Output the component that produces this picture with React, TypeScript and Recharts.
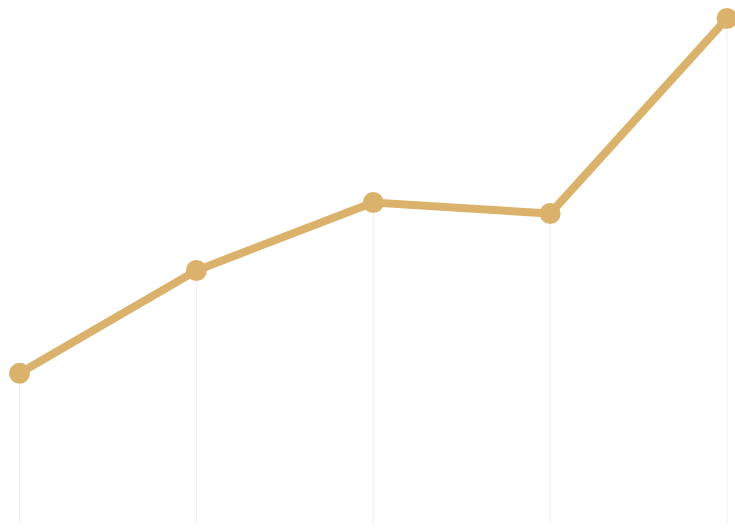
import { LineChart, Line, XAxis, YAxis, ReferenceLine } from "recharts";

const years = ["2019", "2020", "2021", "2022", "2023"];
const values = [29.6, 50, 63.5, 61.3, 100];

const data = years.map((year, i) => ({ year, value: values[i] }));

const GOLD = "#dbb26b";
const DROP = "#faeaee";

export default function App() {
  return (
    <div style={{ position: "absolute", left: 0, top: 0, background: "#fff" }}>
      <LineChart width={735} height={529} data={data} margin={{ top: 18.5, right: 8, bottom: 6.5, left: 19.5 }}>
        <XAxis dataKey="year" hide />
        <YAxis hide domain={[0, 100]} />
        {data.map((d) => (
          <ReferenceLine
            key={d.year}
            segment={[
              { x: d.year, y: 0 },
              { x: d.year, y: d.value },
            ]}
            stroke={DROP}
            strokeWidth={1}
            ifOverflow="visible"
          />
        ))}
        <Line
          type="linear"
          dataKey="value"
          stroke={GOLD}
          strokeWidth={8}
          dot={{ r: 10.5, fill: GOLD, stroke: "none" }}
          activeDot={false}
          isAnimationActive={false}
        />
      </LineChart>
    </div>
  );
}
